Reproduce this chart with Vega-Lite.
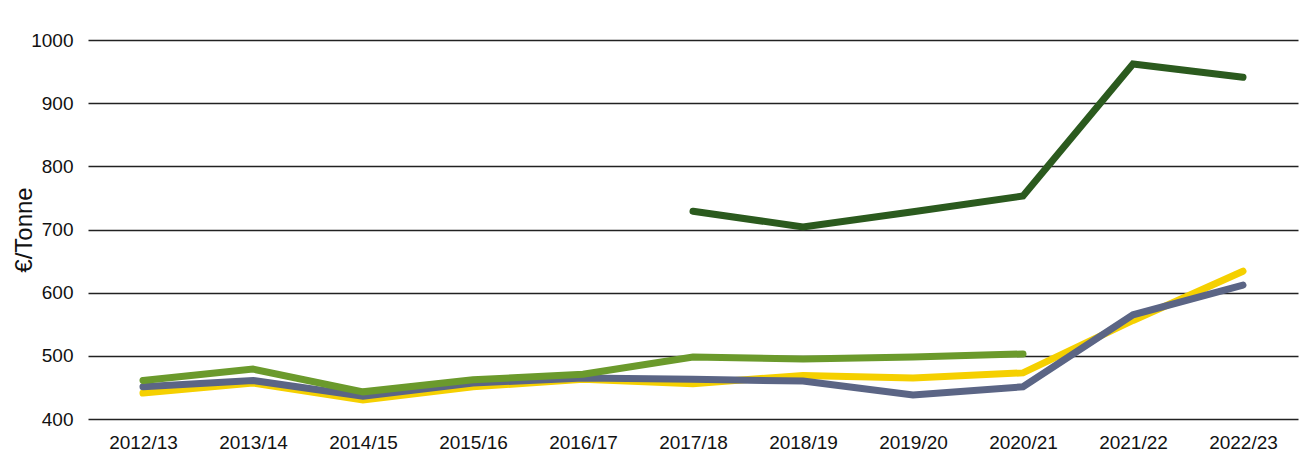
{
  "$schema": "https://vega.github.io/schema/vega-lite/v6.json",
  "width": 1210,
  "height": 379,
  "autosize": {"type": "none"},
  "padding": {"left": 88, "top": 40, "right": 8, "bottom": 45},
  "background": "white",
  "config": {
    "font": "Liberation Sans",
    "view": {"stroke": null},
    "axis": {"labelFont": "Liberation Sans", "titleFont": "Liberation Sans"}
  },
  "data": {
    "values": [
      {"season": "2012/13", "series": "Yellow", "value": 441},
      {"season": "2013/14", "series": "Yellow", "value": 457},
      {"season": "2014/15", "series": "Yellow", "value": 430},
      {"season": "2015/16", "series": "Yellow", "value": 451},
      {"season": "2016/17", "series": "Yellow", "value": 463},
      {"season": "2017/18", "series": "Yellow", "value": 456},
      {"season": "2018/19", "series": "Yellow", "value": 469},
      {"season": "2019/20", "series": "Yellow", "value": 465},
      {"season": "2020/21", "series": "Yellow", "value": 473},
      {"season": "2021/22", "series": "Yellow", "value": 556},
      {"season": "2022/23", "series": "Yellow", "value": 634},
      {"season": "2012/13", "series": "Slate", "value": 451},
      {"season": "2013/14", "series": "Slate", "value": 461},
      {"season": "2014/15", "series": "Slate", "value": 436},
      {"season": "2015/16", "series": "Slate", "value": 457},
      {"season": "2016/17", "series": "Slate", "value": 465},
      {"season": "2017/18", "series": "Slate", "value": 463},
      {"season": "2018/19", "series": "Slate", "value": 460},
      {"season": "2019/20", "series": "Slate", "value": 438},
      {"season": "2020/21", "series": "Slate", "value": 451},
      {"season": "2021/22", "series": "Slate", "value": 565},
      {"season": "2022/23", "series": "Slate", "value": 612},
      {"season": "2012/13", "series": "LightGreen", "value": 461},
      {"season": "2013/14", "series": "LightGreen", "value": 479},
      {"season": "2014/15", "series": "LightGreen", "value": 443},
      {"season": "2015/16", "series": "LightGreen", "value": 462},
      {"season": "2016/17", "series": "LightGreen", "value": 471},
      {"season": "2017/18", "series": "LightGreen", "value": 498},
      {"season": "2018/19", "series": "LightGreen", "value": 495},
      {"season": "2019/20", "series": "LightGreen", "value": 498},
      {"season": "2020/21", "series": "LightGreen", "value": 503},
      {"season": "2017/18", "series": "DarkGreen", "value": 729},
      {"season": "2018/19", "series": "DarkGreen", "value": 704},
      {"season": "2019/20", "series": "DarkGreen", "value": 728},
      {"season": "2020/21", "series": "DarkGreen", "value": 753},
      {"season": "2021/22", "series": "DarkGreen", "value": 962},
      {"season": "2022/23", "series": "DarkGreen", "value": 941}
    ]
  },
  "encoding": {
    "x": {
      "field": "season", "type": "ordinal",
      "scale": {"type": "point", "padding": 0.5},
      "axis": {"title": null, "domain": false, "ticks": false, "labelAngle": 0, "labelFontSize": 19, "labelColor": "#111", "labelPadding": 14}
    },
    "y": {
      "field": "value", "type": "quantitative",
      "scale": {"domain": [400, 1000], "nice": false, "zero": false},
      "axis": {"title": "€/Tonne", "titleFontSize": 24, "titleFontWeight": "normal", "titleColor": "#111", "titlePadding": -6,
        "values": [400, 500, 600, 700, 800, 900, 1000], "format": "d", "domain": false, "ticks": false,
        "labelFontSize": 19, "labelColor": "#111", "labelPadding": 15,
        "grid": true, "gridColor": "#222", "gridWidth": 1.5, "gridOpacity": 1}
    }
  },
  "layer": [
    {"transform": [{"filter": "datum.series === 'Yellow'"}], "mark": {"type": "line", "color": "#f5d000", "strokeWidth": 7, "strokeCap": "round"}},
    {"transform": [{"filter": "datum.series === 'Slate'"}], "mark": {"type": "line", "color": "#5b6585", "strokeWidth": 7, "strokeCap": "round"}},
    {"transform": [{"filter": "datum.series === 'LightGreen'"}], "mark": {"type": "line", "color": "#6b9a2c", "strokeWidth": 7, "strokeCap": "round"}},
    {"transform": [{"filter": "datum.series === 'DarkGreen'"}], "mark": {"type": "line", "color": "#2b5a1e", "strokeWidth": 7, "strokeCap": "round"}}
  ]
}
